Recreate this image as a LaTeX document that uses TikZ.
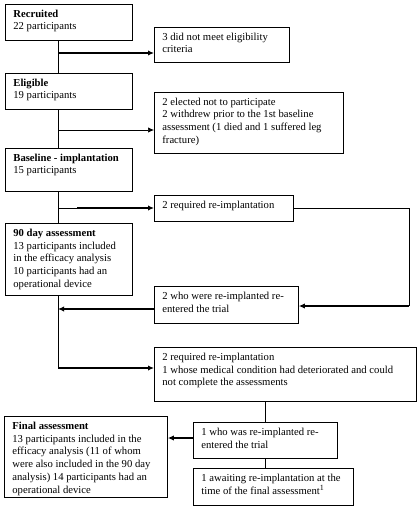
\documentclass[tikz,border=0pt]{standalone}
\usepackage{fontspec}
\setmainfont{Liberation Serif}
\usetikzlibrary{arrows.meta}
\newlength{\pxu}\setlength{\pxu}{0.75pt}
\newcommand{\flowbox}[6]{\node[bxstyle] (#1) at (#2,#3) {\parbox[c][#5\pxu][t]{#4\pxu}{\raggedright\leftskip=6pt\rule{0pt}{9.6pt}#6}};}
\tikzset{
  bxstyle/.style={draw, line width=0.6pt, anchor=north west, inner xsep=0pt, inner ysep=0pt,
    font=\fontsize{8pt}{9.6pt}\selectfont},
  thinln/.style={line width=0.5pt},
  thinarr/.style={line width=0.5pt, -{Latex[length=4.5pt,width=4pt]}},
  thickarr/.style={line width=1.1pt, -{Latex[length=4.5pt,width=4pt]}},
}
\begin{document}
\begin{tikzpicture}[x=0.75pt,y=-0.75pt]
\useasboundingbox[fill=white] (0,0) rectangle (420,509);
\flowbox{rec}{5}{4}{127}{36}{\textbf{Recruited}\\22 participants}
\flowbox{exc1}{154}{27}{135}{35}{3 did not meet eligibility\\criteria}
\flowbox{eli}{5}{73}{127}{36}{\textbf{Eligible}\\19 participants}
\flowbox{exc2}{154}{92}{189}{61}{2 elected not to participate\\2 withdrew prior to the 1st baseline\\assessment (1 died and 1 suffered leg\\fracture)}
\flowbox{base}{5}{148}{127}{43}{\textbf{Baseline - implantation}\\15 participants}
\flowbox{req1}{154}{195}{139}{26}{2 required re-implantation}
\flowbox{day}{5}{223}{127}{72}{\textbf{90 day assessment}\\13 participants included\\in the efficacy analysis\\10 participants had an\\operational device}
\flowbox{reent1}{154}{286}{144}{37}{2 who were re-implanted re-\\entered the trial}
\flowbox{req2}{154}{347}{262}{54}{2 required re-implantation\\1 whose medical condition had deteriorated and could\\not complete the assessments}
\flowbox{final}{4}{416}{163}{81}{\textbf{Final assessment}\\13 participants included in the\\efficacy analysis (11 of whom\\were also included in the 90 day\\analysis) 14 participants had an\\operational device}
\flowbox{reent2}{193}{422}{144}{36}{1 who was re-implanted re-\\entered the trial}
\flowbox{await}{193}{468}{160}{37}{1 awaiting re-implantation at the\\time of the final assessment\textsuperscript{1}}
\coordinate (tx) at (58,0);
\coordinate (kx) at (77,0);
\coordinate (rx) at (409,0);
\coordinate (cx) at (265,0);
\coordinate (y1) at (0,53);
\coordinate (y2) at (0,130);
\coordinate (y3) at (0,208);
\coordinate (y4) at (0,306);
\coordinate (y5) at (0,309);
\coordinate (y6) at (0,368);
\coordinate (y7) at (0,438);
\draw[thinln] (rec.south -| tx) -- (eli.north -| tx);
\draw[thickarr] (tx |- y1) -- (exc1.west |- y1);
\draw[thinln] (eli.south -| tx) -- (base.north -| tx);
\draw[thinarr] (tx |- y2) -- (exc2.west |- y2);
\draw[thinln] (base.south -| tx) -- (day.north -| tx);
\draw[thinln] (tx |- y3) -- (kx |- y3);
\draw[thickarr] (kx |- y3) -- (req1.west |- y3);
\draw[thinln] (req1.east |- y3) -- (rx |- y3) -- (rx |- y4);
\draw[thickarr] (rx |- y4) -- (reent1.east |- y4);
\draw[thickarr] (reent1.west |- y5) -- (tx |- y5);
\draw[thinln] (day.south -| tx) -- (tx |- y6);
\draw[thickarr] (tx |- y6) -- (req2.west |- y6);
\draw[thinln] (req2.south -| cx) -- (reent2.north -| cx);
\draw[thickarr] (reent2.west |- y7) -- (final.east |- y7);
\draw[thinln] (reent2.south -| cx) -- (await.north -| cx);
\end{tikzpicture}
\end{document}
